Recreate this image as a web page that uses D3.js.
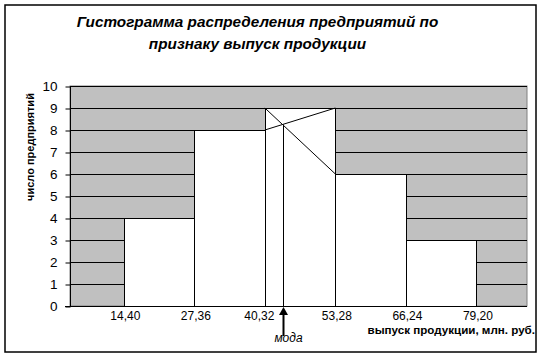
<!DOCTYPE html>
<html><head><meta charset="utf-8">
<script src="https://cdn.jsdelivr.net/npm/d3@7/dist/d3.min.js"></script>
<style>body{margin:0;background:#fff}svg{display:block}</style>
</head><body>
<script>
const titleLines = ["Гистограмма распределения предприятий по", "признаку выпуск продукции"];
const edges = [14.40, 27.36, 40.32, 53.28, 66.24, 79.20];
const counts = [4, 8, 9, 6, 3];
const xTickLabels = ["14,40", "27,36", "40,32", "53,28", "66,24", "79,20"];
const yTicks = [0, 1, 2, 3, 4, 5, 6, 7, 8, 9, 10];
const yTitle = "число предприятий";
const xTitle = "выпуск продукции, млн. руб.";
const modeLabel = "мода";

const W = 543, H = 358;
const font = "'Liberation Sans', Arial, sans-serif";
const svg = d3.select("body").append("svg").attr("width", W).attr("height", H);

const x = d3.scaleLinear().domain([4.5, 88.5]).range([70, 527]);
const y = d3.scaleLinear().domain([0, 10]).range([306, 86]);

// outer frame
svg.append("rect").attr("x", 5).attr("y", 5).attr("width", 531).attr("height", 347)
  .attr("fill", "#fff").attr("stroke", "#000").attr("stroke-width", 1.5);

// title
svg.append("g").selectAll("text").data(titleLines).join("text")
  .attr("x", 257.5).attr("y", (d, i) => 26.5 + i * 22.5)
  .attr("text-anchor", "middle").attr("font-family", font)
  .attr("font-size", 15.3).attr("font-weight", "bold").attr("font-style", "italic")
  .text(d => d);

// plot area
svg.append("rect").attr("x", x.range()[0]).attr("y", y(10))
  .attr("width", x.range()[1] - x.range()[0]).attr("height", y(0) - y(10))
  .attr("fill", "#c0c0c0").attr("stroke", "#808080");

// gridlines
svg.append("g").selectAll("line").data(yTicks.filter(d => d > 0)).join("line")
  .attr("x1", x.range()[0]).attr("x2", x.range()[1])
  .attr("y1", d => Math.round(y(d)) + 0.5).attr("y2", d => Math.round(y(d)) + 0.5)
  .attr("stroke", "#000");

// bars
const bins = counts.map((c, i) => ({x0: edges[i], x1: edges[i + 1], c}));
svg.append("g").selectAll("rect").data(bins).join("rect")
  .attr("x", d => Math.round(x(d.x0)) + 0.5)
  .attr("y", d => Math.round(y(d.c)) + 0.5)
  .attr("width", d => Math.round(x(d.x1)) - Math.round(x(d.x0)))
  .attr("height", d => Math.round(y(0)) - Math.round(y(d.c)))
  .attr("fill", "#fff").attr("stroke", "#000");

// mode construction
const mi = counts.indexOf(d3.max(counts));
const a = edges[mi], b = edges[mi + 1];
const fM = counts[mi], fPrev = counts[mi - 1], fNext = counts[mi + 1];
const modeX = a + (b - a) * (fM - fPrev) / ((fM - fPrev) + (fM - fNext));
const modeY = fM - (fM - fNext) * (modeX - a) / (b - a);
const g = svg.append("g").attr("stroke", "#000").attr("stroke-width", 1);
g.append("line").attr("x1", x(a)).attr("y1", y(fM)).attr("x2", x(b)).attr("y2", y(fNext));
g.append("line").attr("x1", x(a)).attr("y1", y(fPrev)).attr("x2", x(b)).attr("y2", y(fM));
g.append("line").attr("x1", Math.round(x(modeX)) + 0.5).attr("y1", y(modeY))
  .attr("x2", Math.round(x(modeX)) + 0.5).attr("y2", y(0));

// y axis
const yAxis = d3.axisLeft(y).tickValues(yTicks).tickSize(5).tickFormat(d3.format("d"));
const ya = svg.append("g").attr("transform", "translate(70.5,0.5)").call(yAxis);
ya.select(".domain").attr("stroke", "#000").attr("d", `M0,${y(10)}V${y(0)}`);
ya.selectAll(".tick line").attr("stroke", "#000");
ya.selectAll(".tick text").attr("x", -13).attr("font-family", font).attr("font-size", 13.5).attr("fill", "#000");

// x axis line
svg.append("line").attr("x1", 65).attr("x2", x.range()[1]).attr("y1", Math.round(y(0)) + 0.5)
  .attr("y2", Math.round(y(0)) + 0.5).attr("stroke", "#000");

// x tick labels
const xAxis = d3.axisBottom(x).tickValues(edges).tickSize(0).tickFormat((d, i) => xTickLabels[i]);
const xa = svg.append("g").attr("transform", `translate(0,${y(0)})`).call(xAxis);
xa.select(".domain").remove();
xa.selectAll(".tick text").attr("y", 14).attr("dy", 0).attr("font-family", font)
  .attr("font-size", 12).attr("fill", "#000")
  .attr("dx", (d, i) => i === 2 ? -6 : 1);

// mode arrow
const ax = Math.round(x(modeX)) + 0.5;
svg.append("line").attr("x1", ax).attr("x2", ax).attr("y1", 312).attr("y2", 336)
  .attr("stroke", "#000").attr("stroke-width", 2);
svg.append("path").attr("d", `M${ax},${y(0) + 1}L${ax - 4.5},${y(0) + 9}L${ax + 4.5},${y(0) + 9}Z`).attr("fill", "#000");
svg.append("text").attr("x", ax + 5).attr("y", 342).attr("text-anchor", "middle")
  .attr("font-family", font).attr("font-size", 12).attr("font-style", "italic").text(modeLabel);

// axis titles
svg.append("text").attr("transform", "translate(34,147) rotate(-90)").attr("text-anchor", "middle")
  .attr("font-family", font).attr("font-size", 11).attr("font-weight", "bold").text(yTitle);
svg.append("text").attr("x", 535).attr("y", 334).attr("text-anchor", "end")
  .attr("font-family", font).attr("font-size", 11.6).attr("font-weight", "bold").text(xTitle);
</script>
</body></html>
